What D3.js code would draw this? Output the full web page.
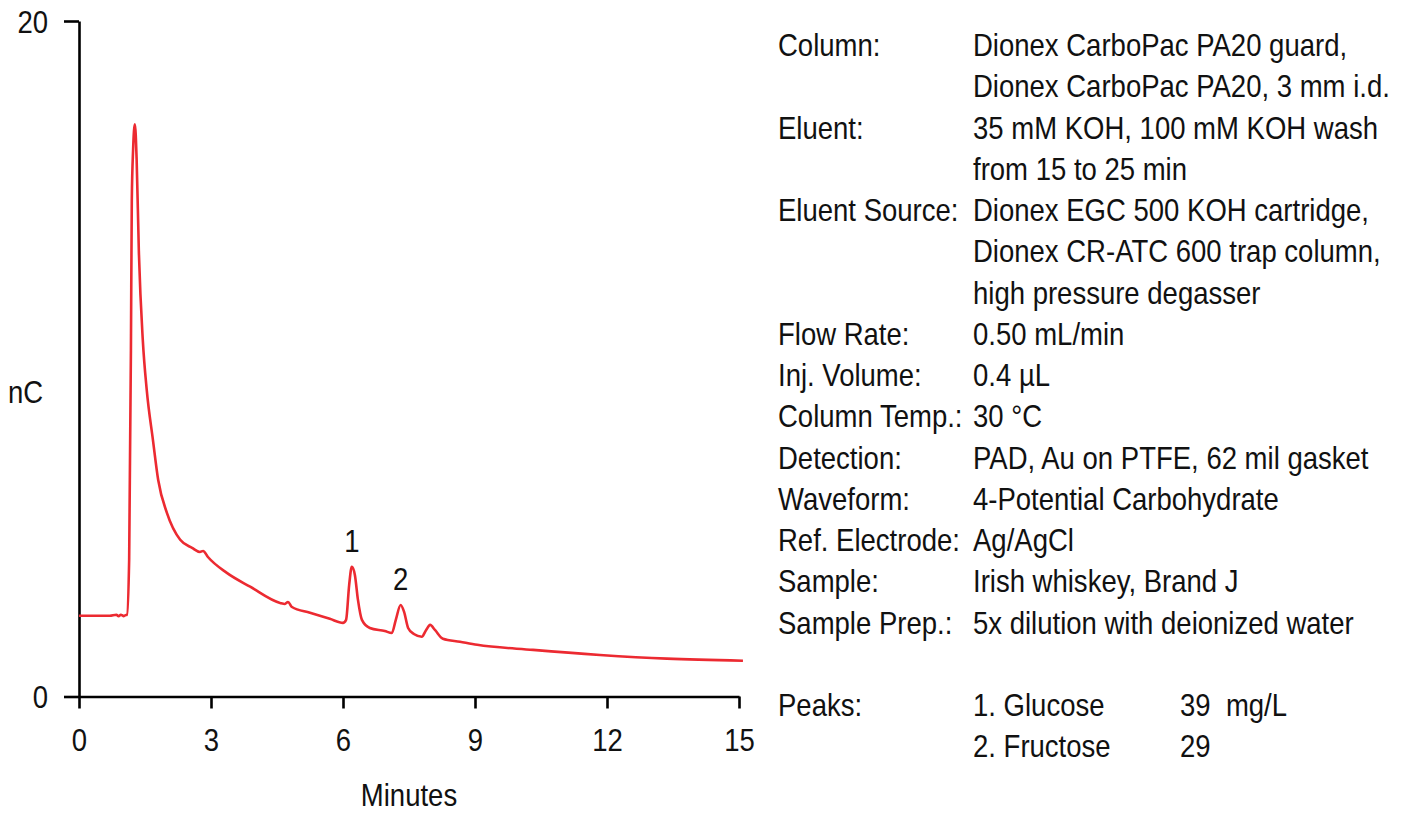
<!DOCTYPE html>
<html>
<head>
<meta charset="utf-8">
<script src="https://cdn.jsdelivr.net/npm/d3@7"></script>
<style>
  html, body { margin: 0; padding: 0; background: #fff; }
  text { font-family: "Liberation Sans", Arial, sans-serif; fill: #111; }
</style>
</head>
<body>
<div id="chart"></div>
<script>
// Chromatogram trace (minutes, nC)
const times  = [0, 0.7, 0.85, 0.9, 0.95, 1.02, 1.06, 1.09, 1.14, 1.18, 1.2, 1.23, 1.27, 1.31, 1.36, 1.45, 1.54,
                1.68, 1.8, 2.0, 2.3, 2.57, 2.75, 2.82, 2.93, 3.36, 3.89, 4.57, 4.68, 4.75, 4.84, 5.25, 5.7,
                6.0, 6.07, 6.14, 6.2, 6.27, 6.34, 6.43, 6.61, 6.95, 7.11, 7.2, 7.31, 7.39, 7.48, 7.61, 7.79,
                7.89, 7.98, 8.09, 8.27, 8.66, 9.05, 10.32, 11.84, 13.36, 15.09];
const signal = [2.39, 2.39, 2.42, 2.38, 2.42, 2.38, 2.41, 2.42, 4.05, 10.25, 14.7, 16.2, 16.94, 15.9, 13.2, 10.55, 9.07,
                7.6, 6.41, 5.43, 4.64, 4.4, 4.28, 4.31, 4.13, 3.66, 3.25, 2.77, 2.74, 2.8, 2.65, 2.48, 2.3,
                2.18, 2.27, 3.3, 3.84, 3.6, 2.86, 2.27, 2.03, 1.94, 1.88, 2.27, 2.71, 2.5, 2.03, 1.85, 1.77,
                1.97, 2.12, 1.97, 1.71, 1.62, 1.53, 1.38, 1.23, 1.12, 1.06];

// Peak markers
const peakNumbers = ["1", "2"];
const peakTimes   = [6.2, 7.31];
const peakHeights = [3.84, 2.71];

// Axis ticks
const xTicks = [0, 3, 6, 9, 12, 15];
const yTicks = [0, 20];

// Conditions panel
const infoLabels = ["Column:", "", "Eluent:", "", "Eluent Source:", "", "", "Flow Rate:", "Inj. Volume:",
                    "Column Temp.:", "Detection:", "Waveform:", "Ref. Electrode:", "Sample:", "Sample Prep.:"];
const infoValues = ["Dionex CarboPac PA20 guard,", "Dionex CarboPac PA20, 3 mm i.d.",
                    "35 mM KOH, 100 mM KOH wash", "from 15 to 25 min",
                    "Dionex EGC 500 KOH cartridge,", "Dionex CR-ATC 600 trap column,", "high pressure degasser",
                    "0.50 mL/min", "0.4 µL", "30 °C", "PAD, Au on PTFE, 62 mil gasket",
                    "4-Potential Carbohydrate", "Ag/AgCl", "Irish whiskey, Brand J", "5x dilution with deionized water"];
const peakNames = ["1. Glucose", "2. Fructose"];
const peakConc  = ["39  mg/L", "29"];

const W = 1416, H = 822;
const fontSize = 32, squeeze = 0.86;   // condensed look
const red = "#ec2a31";

const x = d3.scaleLinear().domain([0, 15]).range([79, 739]);
const y = d3.scaleLinear().domain([0, 20]).range([696.5, 21]);

const svg = d3.select("#chart").append("svg")
    .attr("width", W)
    .attr("height", H);

// place a condensed text with its anchor at (px, py)
function label(parent, px, py, str, anchor) {
  return parent.append("g")
      .attr("transform", `translate(${px},${py})`)
    .append("text")
      .attr("transform", `scale(${squeeze},1)`)
      .attr("text-anchor", anchor || "start")
      .style("font-size", fontSize + "px")
      .style("white-space", "pre")
      .text(str);
}

// X axis
const xAxis = svg.append("g")
    .attr("transform", `translate(0,${y(0)})`)
    .call(d3.axisBottom(x).tickValues(xTicks).tickSize(12).tickSizeOuter(0).tickPadding(20));
// Y axis
const yAxis = svg.append("g")
    .attr("transform", `translate(${x(0)},0)`)
    .call(d3.axisLeft(y).tickValues(yTicks).tickSize(15).tickSizeOuter(0).tickPadding(31));

[xAxis, yAxis].forEach(a => {
  a.selectAll("path, line").attr("stroke", "#000").attr("stroke-width", 2.6);
  a.selectAll("text")
      .style("font-size", fontSize + "px")
      .attr("fill", "#111")
      .attr("dy", null);
});
xAxis.selectAll("text").attr("y", 55).attr("transform", `scale(${squeeze},1)`);
yAxis.selectAll("text").attr("x", -31 / squeeze).attr("y", 11).attr("transform", `scale(${squeeze},1)`);

// Axis titles
label(svg, (x(0) + x(15)) / 2, 806, "Minutes", "middle");
label(svg, 8, 403, "nC", "start");

// Trace
const line = d3.line()
    .x((d, i) => x(times[i]))
    .y(d => y(d))
    .curve(d3.curveMonotoneX);

svg.append("path")
    .datum(signal)
    .attr("fill", "none")
    .attr("stroke", red)
    .attr("stroke-width", 2.6)
    .attr("stroke-linejoin", "round")
    .attr("d", line);

// Peak numbers
peakNumbers.forEach((n, i) => {
  label(svg, x(peakTimes[i]), y(peakHeights[i]) - 15, n, "middle");
});

// Conditions panel
const rowY = i => 56 + 41.25 * i;
const panel = svg.append("g");
infoLabels.forEach((s, i) => { if (s) label(panel, 778, rowY(i), s); });
infoValues.forEach((s, i) => label(panel, 973, rowY(i), s));
label(panel, 778, rowY(16), "Peaks:");
peakNames.forEach((s, i) => label(panel, 973, rowY(16 + i), s));
peakConc.forEach((s, i) => label(panel, 1180, rowY(16 + i), s));
</script>
</body>
</html>
